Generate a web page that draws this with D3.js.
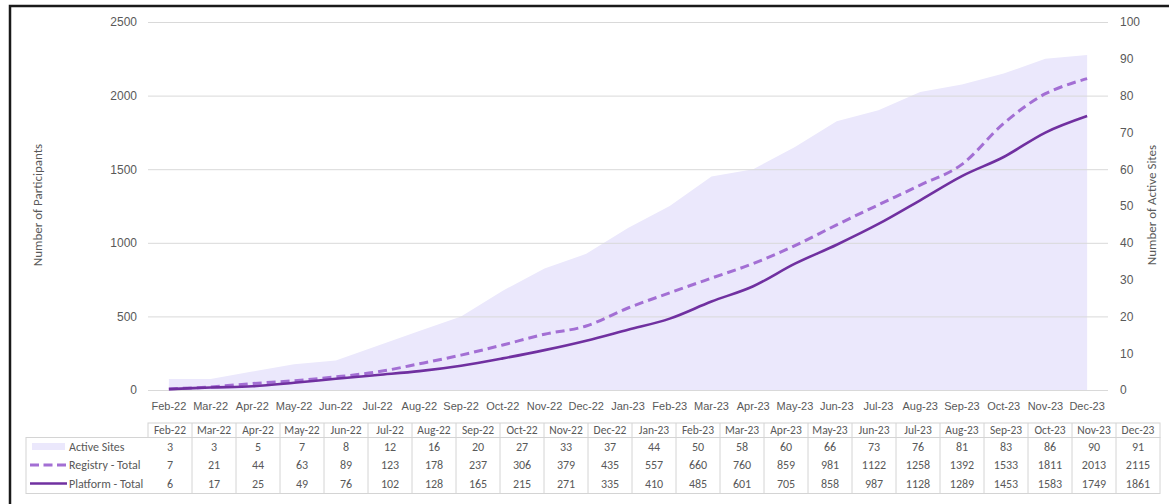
<!DOCTYPE html>
<html>
<head>
<meta charset="utf-8">
<script src="https://cdn.jsdelivr.net/npm/d3@7"></script>
<style>
  body { margin: 0; background: #fff; }
  svg { display: block; font-family: Calibri, Carlito, Lato, sans-serif; }
  .tick text { fill: #595959; font-size: 12px; }
  .xaxis .tick text { font-size: 11px; }
  .cell { fill: #595959; font-size: 12px; }
  .cell.head { font-size: 11.5px; }
  .title { fill: #595959; font-size: 13px; }
</style>
</head>
<body>
<div class="chart"></div>
<script>
var months = ["Feb-22", "Mar-22", "Apr-22", "May-22", "Jun-22", "Jul-22", "Aug-22", "Sep-22",
    "Oct-22", "Nov-22", "Dec-22", "Jan-23", "Feb-23", "Mar-23", "Apr-23", "May-23", "Jun-23",
    "Jul-23", "Aug-23", "Sep-23", "Oct-23", "Nov-23", "Dec-23"];
var activeSites = [3, 3, 5, 7, 8, 12, 16, 20, 27, 33, 37, 44, 50, 58, 60, 66, 73, 76, 81, 83, 86, 90, 91];
var registryTotal = [7, 21, 44, 63, 89, 123, 178, 237, 306, 379, 435, 557, 660, 760, 859, 981,
    1122, 1258, 1392, 1533, 1811, 2013, 2115];
var platformTotal = [6, 17, 25, 49, 76, 102, 128, 165, 215, 271, 335, 410, 485, 601, 705, 858,
    987, 1128, 1289, 1453, 1583, 1749, 1861];
var leftTicks = [0, 500, 1000, 1500, 2000, 2500];
var rightTicks = [0, 10, 20, 30, 40, 50, 60, 70, 80, 90, 100];

var W = 1169, H = 504;
var plotLeft = 148, plotRight = 1108, plotTop = 22, plotBottom = 390;

var areaColor = "#ebe8fc";
var registryColor = "#a36fd4";
var platformColor = "#7030a0";

var svg = d3.select(".chart")
            .append("svg")
            .attr("width", W)
            .attr("height", H);

// frame
svg.append("rect")
    .attr("x", 10).attr("y", 6)
    .attr("width", W + 20).attr("height", H + 20)
    .attr("fill", "none")
    .attr("stroke", "#1a1a1a")
    .attr("stroke-width", 2.5);

var x = d3.scaleBand().domain(months).range([plotLeft, plotRight]);
var cx = function(m) { return x(m) + x.bandwidth() / 2; };
var yL = d3.scaleLinear().domain([0, 2500]).range([plotBottom, plotTop]);
var yR = d3.scaleLinear().domain([0, 100]).range([plotBottom, plotTop]);

// area for active sites (right axis)
svg.append("path")
    .datum(activeSites)
    .attr("fill", areaColor)
    .attr("d", d3.area()
        .x(function(d, i) { return cx(months[i]); })
        .y0(plotBottom)
        .y1(function(d) { return yR(d); }));

// gridlines
var grid = svg.append("g")
    .attr("transform", "translate(" + plotLeft + ",0)")
    .call(d3.axisLeft(yL).tickValues(leftTicks).tickSize(-(plotRight - plotLeft)).tickFormat(""));
grid.select(".domain").remove();
grid.selectAll("line").attr("stroke", "#d9d9d9");

// left axis labels
var yAxisL = svg.append("g")
    .attr("transform", "translate(" + plotLeft + ",0)")
    .call(d3.axisLeft(yL).tickValues(leftTicks).tickSize(0).tickPadding(11).tickFormat(d3.format("d")));
yAxisL.select(".domain").remove();

// right axis labels
var yAxisR = svg.append("g")
    .attr("transform", "translate(" + plotRight + ",0)")
    .call(d3.axisRight(yR).tickValues(rightTicks).tickSize(0).tickPadding(12).tickFormat(d3.format("d")));
yAxisR.select(".domain").remove();

// x axis labels
var xAxis = svg.append("g")
    .attr("class", "xaxis")
    .attr("transform", "translate(0," + plotBottom + ")")
    .call(d3.axisBottom(x).tickSize(0).tickPadding(12));
xAxis.select(".domain").remove();

// lines
var line = d3.line()
    .x(function(d, i) { return cx(months[i]); })
    .y(function(d) { return yL(d); })
    .curve(d3.curveCardinal.tension(0));

svg.append("path")
    .datum(registryTotal)
    .attr("fill", "none")
    .attr("stroke", registryColor)
    .attr("stroke-width", 3)
    .attr("stroke-dasharray", "9,5")
    .attr("d", line);

svg.append("path")
    .datum(platformTotal)
    .attr("fill", "none")
    .attr("stroke", platformColor)
    .attr("stroke-width", 2.6)
    .attr("d", line);

// axis titles
svg.append("text")
    .attr("class", "title")
    .attr("transform", "translate(42,205) rotate(-90)")
    .attr("text-anchor", "middle")
    .text("Number of Participants");

svg.append("text")
    .attr("class", "title")
    .attr("transform", "translate(1156,205) rotate(-90)")
    .attr("text-anchor", "middle")
    .text("Number of Active Sites");

// data table
var tx = d3.scaleBand().domain(months).range([148, 1160]);
var tableLeft = 26, headTop = 423, headBottom = 437.5, tableBottom = 493.5;
var rowY = [446.5, 465, 483.5];
var border = "#d4d4d4";

var table = svg.append("g");

table.append("rect")
    .attr("x", 148).attr("y", headTop)
    .attr("width", 1160 - 148).attr("height", headBottom - headTop)
    .attr("fill", "none").attr("stroke", border);

table.append("rect")
    .attr("x", tableLeft).attr("y", headBottom)
    .attr("width", 1160 - tableLeft).attr("height", tableBottom - headBottom)
    .attr("fill", "none").attr("stroke", border);

table.selectAll(".vline")
    .data(months.slice(1))
    .enter().append("line")
    .attr("x1", function(m) { return tx(m); })
    .attr("x2", function(m) { return tx(m); })
    .attr("y1", headTop).attr("y2", tableBottom)
    .attr("stroke", border);

table.selectAll(".head")
    .data(months)
    .enter().append("text")
    .attr("class", "cell head")
    .attr("x", function(m) { return tx(m) + tx.bandwidth() / 2; })
    .attr("y", (headTop + headBottom) / 2)
    .attr("dy", "0.35em")
    .attr("text-anchor", "middle")
    .text(function(m) { return m; });

var rows = [activeSites, registryTotal, platformTotal];
var rowNames = ["Active Sites", "Registry - Total", "Platform - Total"];

rows.forEach(function(vals, r) {
    table.selectAll(".row" + r)
        .data(vals)
        .enter().append("text")
        .attr("class", "cell")
        .attr("x", function(d, i) { return tx(months[i]) + tx.bandwidth() / 2; })
        .attr("y", rowY[r])
        .attr("dy", "0.35em")
        .attr("text-anchor", "middle")
        .text(function(d) { return d; });

    table.append("text")
        .attr("class", "cell")
        .attr("x", 69)
        .attr("y", rowY[r])
        .attr("dy", "0.35em")
        .text(rowNames[r]);
});

// legend keys
table.append("rect")
    .attr("x", 32).attr("y", rowY[0] - 3.5)
    .attr("width", 33).attr("height", 7)
    .attr("fill", areaColor);

table.append("line")
    .attr("x1", 30).attr("x2", 66)
    .attr("y1", rowY[1]).attr("y2", rowY[1])
    .attr("stroke", registryColor)
    .attr("stroke-width", 3)
    .attr("stroke-dasharray", "9,4.5");

table.append("line")
    .attr("x1", 30).attr("x2", 67)
    .attr("y1", rowY[2]).attr("y2", rowY[2])
    .attr("stroke", platformColor)
    .attr("stroke-width", 2.6);
</script>
</body>
</html>
